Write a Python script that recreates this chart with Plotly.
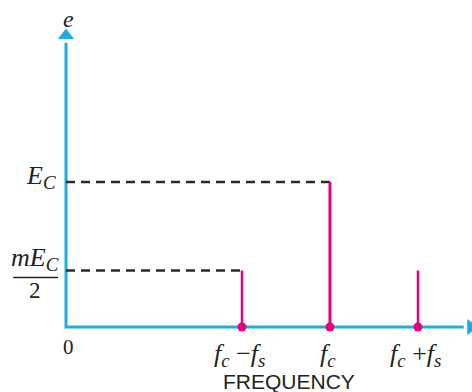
import plotly.graph_objects as go

# ---- data ----
frequencies = [2, 3, 4]                      # fc - fs, fc, fc + fs
amplitudes = [0.39, 1.0, 0.39]               # mEc/2, Ec, mEc/2
SUB = '<sub><span style="font-size:19px">{}</span></sub>'
freq_labels = ["<i>f" + SUB.format("c") + "</i> −<i>f" + SUB.format("s") + "</i>",
               "<i>f" + SUB.format("c") + "</i>",
               "<i>f" + SUB.format("c") + "</i> +<i>f" + SUB.format("s") + "</i>"]
ec_label = "<i>E" + SUB.format("C") + "</i>"
mec_label = "<i>mE" + SUB.format("C") + "</i>"
x_title = "FREQUENCY"
y_title = "<i>e</i>"

CYAN = "#1aaee6"
MAG = "#e6007e"
SERIF = "Liberation Serif"
INK = "#222222"

fig = go.Figure()

x_top = 4.60
y_top = 2.01

# axes
fig.add_trace(go.Scatter(x=[0, 0, x_top - 0.08], y=[y_top - 0.05, 0, 0], mode="lines",
                         line=dict(color=CYAN, width=3), hoverinfo="skip"))
fig.add_trace(go.Scatter(x=[0], y=[y_top], mode="markers",
                         marker=dict(symbol="triangle-up", size=14, color=CYAN), hoverinfo="skip"))
fig.add_trace(go.Scatter(x=[x_top], y=[0], mode="markers",
                         marker=dict(symbol="triangle-right", size=14, color=CYAN), hoverinfo="skip"))

# dashed reference lines (for left sideband and carrier)
for f, a in zip(frequencies[:2], amplitudes[:2]):
    fig.add_trace(go.Scatter(x=[0, f], y=[a, a], mode="lines",
                             line=dict(color="#2a2a2a", width=2.4, dash="9px,6px"), hoverinfo="skip"))

# stems
for f, a in zip(frequencies, amplitudes):
    fig.add_trace(go.Scatter(x=[f, f], y=[0, a], mode="lines",
                             line=dict(color=MAG, width=3 if a == max(amplitudes) else 2.5),
                             hoverinfo="skip"))
fig.add_trace(go.Scatter(x=frequencies, y=[0] * len(frequencies), mode="markers",
                         marker=dict(color=MAG, size=9), hoverinfo="skip"))

ann = []
for f, lab in zip(frequencies, freq_labels):
    ann.append(dict(x=f, y=0, text=lab, showarrow=False, yanchor="top", yshift=-10, xshift=-2,
                    font=dict(family=SERIF, size=26, color=INK)))
ann.append(dict(x=0, y=0, text="0", showarrow=False, yanchor="top", yshift=-6, xshift=2,
                font=dict(family=SERIF, size=21, color=INK)))
ann.append(dict(x=2.53, y=0, text=x_title, showarrow=False, yanchor="top", yshift=-41,
                font=dict(family="Liberation Sans", size=21, color=INK)))
ann.append(dict(x=0, y=y_top, text=y_title, showarrow=False, yanchor="bottom", yshift=2, xshift=2,
                font=dict(family=SERIF, size=24, color=INK)))
ann.append(dict(x=0, y=amplitudes[1], text=ec_label, showarrow=False, xanchor="right",
                yanchor="middle", xshift=-8, yshift=5, font=dict(family=SERIF, size=26, color=INK)))
# fraction mEc / 2
ann.append(dict(x=-0.4, y=amplitudes[0], text=mec_label, showarrow=False,
                yanchor="bottom", yshift=-7, xshift=4, font=dict(family=SERIF, size=26, color=INK)))
ann.append(dict(x=-0.4, y=amplitudes[0], text="2", showarrow=False,
                yanchor="top", yshift=-6, xshift=4, font=dict(family=SERIF, size=23, color=INK)))

fig.add_shape(type="line", xref="x", x0=-0.6, x1=-0.09,
              yref="y", ysizemode="pixel", yanchor=amplitudes[0], y0=-7, y1=-7,
              line=dict(color=INK, width=1.5))

fig.update_layout(
    width=472, height=392,
    margin=dict(l=0, r=0, t=0, b=0),
    paper_bgcolor="white", plot_bgcolor="white",
    showlegend=False,
    annotations=ann,
    xaxis=dict(range=[-0.75, 4.614], visible=False),
    yaxis=dict(range=[-0.448, 2.255], visible=False),
)
fig.write_html("out.html", config={"displayModeBar": False},
               post_script="document.body.style.margin='0px';")
